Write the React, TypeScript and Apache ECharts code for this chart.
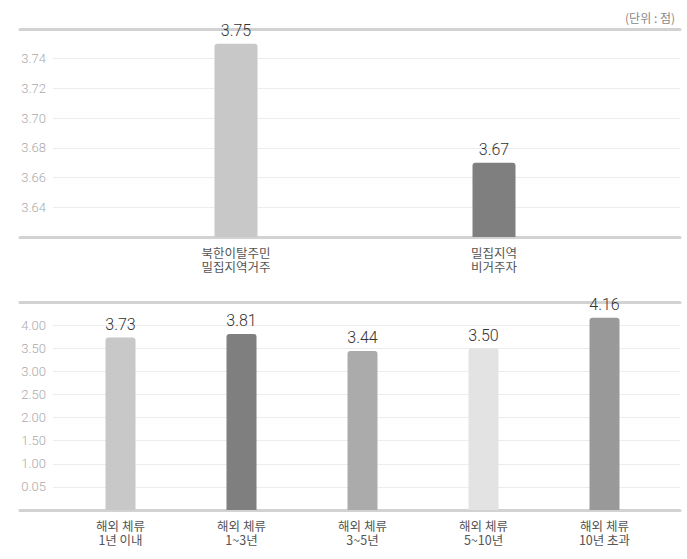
import React, { useEffect, useRef } from "react";
import * as echarts from "echarts";

const unitText = "(단위 : 점)";

const topCategories = ["북한이탈주민\n밀집지역거주", "밀집지역\n비거주자"];
const topValues = [3.75, 3.67];
const topColors = ["#c8c8c8", "#7f7f7f"];
const topMin = 3.62;
const topMax = 3.76;
const topInterval = 0.02;
const topTickLabels = ["", "3.64", "3.66", "3.68", "3.70", "3.72", "3.74", ""];

const bottomCategories = [
  "해외 체류\n1년 이내",
  "해외 체류\n1~3년",
  "해외 체류\n3~5년",
  "해외 체류\n5~10년",
  "해외 체류\n10년 초과",
];
const bottomValues = [3.73, 3.81, 3.44, 3.5, 4.16];
const bottomColors = ["#c8c8c8", "#7f7f7f", "#ababab", "#e3e3e3", "#999999"];
const bottomMin = 0;
const bottomMax = 4.5;
const bottomInterval = 0.5;
const bottomTickLabels = ["", "0.05", "1.00", "1.50", "2.00", "2.50", "3.00", "3.50", "4.00", ""];

const NUM_FONT = "Roboto, 'DejaVu Sans Condensed', sans-serif";
const KR_FONT = "'Noto Sans CJK KR', 'Noto Sans', sans-serif";
const AXIS_LINE = { show: true, lineStyle: { color: "#d2d2d2", width: 3 } };

export default function App() {
  const ref = useRef<HTMLDivElement>(null);

  useEffect(() => {
    document.body.style.margin = "0";
    if (!ref.current) return;
    const chart = echarts.init(ref.current, null, { renderer: "svg" });

    const panels = [
      {
        top: 29, height: 208, barLeft: 107, barRight: 64, barWidth: 43,
        min: topMin, max: topMax, interval: topInterval, ticks: topTickLabels,
        cats: topCategories, values: topValues, colors: topColors,
      },
      {
        top: 302, height: 208, barLeft: 60, barRight: 22, barWidth: 30,
        min: bottomMin, max: bottomMax, interval: bottomInterval, ticks: bottomTickLabels,
        cats: bottomCategories, values: bottomValues, colors: bottomColors,
      },
    ];

    const grid: any[] = [];
    const xAxis: any[] = [];
    const yAxis: any[] = [];
    const series: any[] = [];

    panels.forEach((p) => {
      const gLines = grid.length;
      grid.push({ left: 20, right: 7, top: p.top, height: p.height });
      const gTicks = grid.length;
      grid.push({ left: 53, right: 7, top: p.top, height: p.height });
      const gBars = grid.length;
      grid.push({ left: p.barLeft, right: p.barRight, top: p.top, height: p.height });

      const xLinesBottom = xAxis.length;
      xAxis.push({ type: "category", gridIndex: gLines, position: "bottom", data: p.cats, axisLine: AXIS_LINE, axisTick: { show: false }, axisLabel: { show: false } });
      xAxis.push({ type: "category", gridIndex: gLines, position: "top", data: p.cats, axisLine: AXIS_LINE, axisTick: { show: false }, axisLabel: { show: false } });
      const yLines = yAxis.length;
      yAxis.push({ type: "value", gridIndex: gLines, min: p.min, max: p.max, interval: p.interval, show: false, splitLine: { show: false } });

      const xTicks = xAxis.length;
      xAxis.push({ type: "category", gridIndex: gTicks, data: p.cats, show: false });
      const yTicks = yAxis.length;
      const ticks = p.ticks;
      const mn = p.min;
      const iv = p.interval;
      yAxis.push({
        type: "value", gridIndex: gTicks, min: p.min, max: p.max, interval: p.interval,
        axisLine: { show: false }, axisTick: { show: false },
        axisLabel: {
          margin: 7, color: "#aaaaaa", fontSize: 13, fontFamily: NUM_FONT, fontWeight: 300,
          formatter: (v: number) => ticks[Math.round((v - mn) / iv)] ?? "",
        },
        splitLine: { show: true, lineStyle: { color: "#ececec", width: 1 } },
      });

      const catLabel = { color: "#555555", fontSize: 12.5, fontFamily: KR_FONT, interval: 0 };
      const xBars = xAxis.length;
      xAxis.push({
        type: "category", gridIndex: gBars, data: p.cats, position: "bottom",
        axisLine: { show: false }, axisTick: { show: false },
        axisLabel: { ...catLabel, margin: 9, formatter: (s: string) => s.split("\n")[0] },
      });
      xAxis.push({
        type: "category", gridIndex: gBars, data: p.cats, position: "bottom", offset: 14,
        axisLine: { show: false }, axisTick: { show: false },
        axisLabel: { ...catLabel, margin: 9, formatter: (s: string) => s.split("\n")[1] ?? "" },
      });
      const yBars = yAxis.length;
      yAxis.push({ type: "value", gridIndex: gBars, min: p.min, max: p.max, interval: p.interval, show: false, splitLine: { show: false } });

      series.push({ type: "bar", xAxisIndex: xLinesBottom, yAxisIndex: yLines, data: [] });
      series.push({ type: "bar", xAxisIndex: xTicks, yAxisIndex: yTicks, data: [] });
      const colors = p.colors;
      series.push({
        type: "bar", xAxisIndex: xBars, yAxisIndex: yBars,
        barWidth: p.barWidth,
        data: p.values.map((v, i) => ({ value: v, itemStyle: { color: colors[i] } })),
        itemStyle: { borderRadius: [3, 3, 0, 0] },
        label: {
          show: true, position: "top", distance: 5, color: "#333333", fontSize: 16,
          fontWeight: 300, fontFamily: NUM_FONT, formatter: (d: any) => Number(d.value).toFixed(2),
        },
      });
    });

    chart.setOption({
      animation: false,
      backgroundColor: "#ffffff",
      title: {
        text: unitText, right: 7, top: 6,
        textStyle: { color: "#888888", fontSize: 12, fontWeight: "normal", fontFamily: KR_FONT },
      },
      grid, xAxis, yAxis, series,
    });

    return () => chart.dispose();
  }, []);

  return <div ref={ref} style={{ width: 687, height: 559 }} />;
}
